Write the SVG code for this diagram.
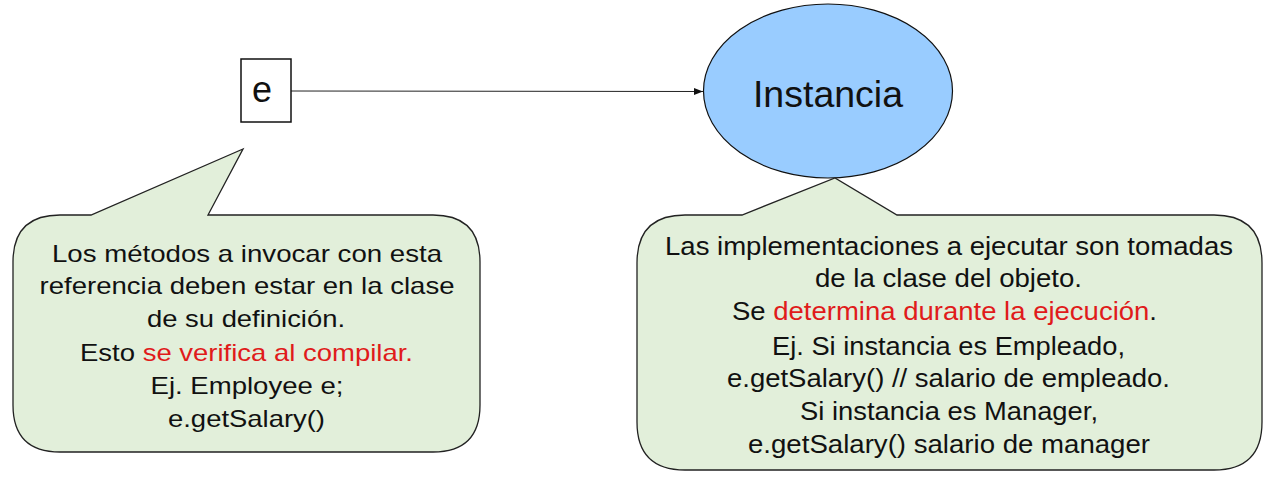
<svg xmlns="http://www.w3.org/2000/svg" width="1288" height="483" viewBox="0 0 1288 483">
<style>
.t{font-family:"Liberation Sans",Arial,sans-serif;fill:#111;text-anchor:middle}
.b{font-size:24px}
.b2{font-size:25.5px}
.r{fill:#e01b1b}
.call{fill:#e2efda;stroke:#222;stroke-width:1.3}
</style>
<defs>
<marker id="ah" viewBox="0 0 10 10" refX="10" refY="5" markerWidth="9" markerHeight="9" markerUnits="userSpaceOnUse" orient="auto">
<path d="M0,1 L10,5 L0,9 z" fill="#111"/>
</marker>
</defs>
<rect width="1288" height="483" fill="#fff"/>
<g id="connectors">
<line x1="291" y1="91" x2="703" y2="91.5" stroke="#222" stroke-width="1" marker-end="url(#ah)"/>
</g>
<g id="node-e">
<rect x="241" y="59" width="50" height="63" fill="#fff" stroke="#111" stroke-width="1.5"/>
<text class="t" x="262" y="102" font-size="36">e</text>
</g>
<g id="node-instancia">
<ellipse cx="828" cy="91" rx="124.5" ry="87" fill="#99ccff" stroke="#111" stroke-width="1.2"/>
<text class="t" x="828" y="107" font-size="37.5">Instancia</text>
</g>
<g id="callout-left">
<path class="call" d="M60,215 L91,215 L243,149 L208,215 L433,215 Q480,215 480,262 L480,405 Q480,452 433,452 L60,452 Q13,452 13,405 L13,262 Q13,215 60,215 Z"/>
<g class="t b">
<text x="247" y="262" textLength="390" lengthAdjust="spacingAndGlyphs">Los métodos a invocar con esta</text>
<text x="247" y="294" textLength="415" lengthAdjust="spacingAndGlyphs">referencia deben estar en la clase</text>
<text x="246" y="327" textLength="198" lengthAdjust="spacingAndGlyphs">de su definición.</text>
<text x="246.5" y="361" textLength="333" lengthAdjust="spacingAndGlyphs">Esto <tspan class="r">se verifica al compilar.</tspan></text>
<text x="247" y="394" textLength="193" lengthAdjust="spacingAndGlyphs">Ej. Employee e;</text>
<text x="246.5" y="427" textLength="157" lengthAdjust="spacingAndGlyphs">e.getSalary()</text>
</g>
</g>
<g id="callout-right">
<path class="call" d="M685,215 L742,215 L835,178 L897,215 L1214,215 Q1262,215 1262,263 L1262,422 Q1262,470 1214,470 L685,470 Q637,470 637,422 L637,263 Q637,215 685,215 Z"/>
<g class="t b2">
<text x="949" y="255" textLength="568" lengthAdjust="spacingAndGlyphs">Las implementaciones a ejecutar son tomadas</text>
<text x="948.5" y="287" textLength="267" lengthAdjust="spacingAndGlyphs">de la clase del objeto.</text>
<text x="944.5" y="320" textLength="425" lengthAdjust="spacingAndGlyphs">Se <tspan class="r">determina durante la ejecución</tspan>.</text>
<text x="948.5" y="355" textLength="353" lengthAdjust="spacingAndGlyphs">Ej. Si instancia es Empleado,</text>
<text x="948.5" y="387" textLength="443" lengthAdjust="spacingAndGlyphs">e.getSalary() // salario de empleado.</text>
<text x="949" y="420" textLength="298" lengthAdjust="spacingAndGlyphs">Si instancia es Manager,</text>
<text x="949" y="453" textLength="402" lengthAdjust="spacingAndGlyphs">e.getSalary() salario de manager</text>
</g>
</g>
</svg>
